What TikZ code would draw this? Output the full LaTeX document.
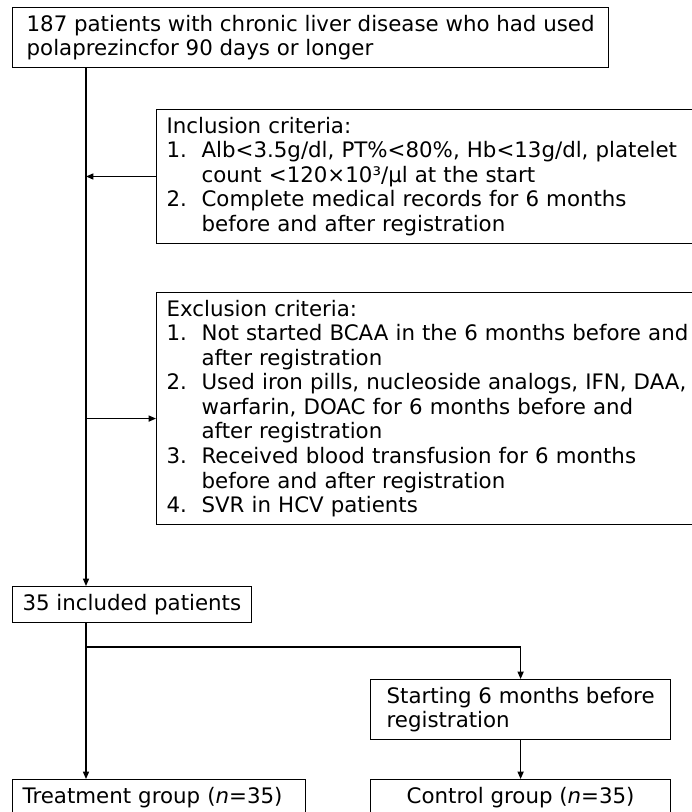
\documentclass[tikz,border=0pt]{standalone}
\usepackage{fontspec}
\setmainfont{DejaVu Sans}
\usetikzlibrary{arrows.meta}

\newdimen\pxu \pxu=0.75pt
\newcommand\lnum[1]{\makebox[35\pxu][l]{#1}}
\newcommand\lpad{\makebox[35\pxu]{}}

\begin{document}
\begin{tikzpicture}[x=0.75pt,y=-0.75pt,
  box/.style={draw,line width=0.9pt,inner xsep=10\pxu,inner ysep=7.5\pxu,
    align=left,anchor=north west,font=\fontsize{16}{18.4}\selectfont},
  arr/.style={line width=1pt,-{Triangle[length=5.5pt,width=4.5pt]}},
  link/.style={line width=1pt}]

\useasboundingbox (0,0) rectangle (691,812);

\node[box,minimum width=596\pxu] (top) at (12,7)
  {187 patients with chronic liver disease who had used\\polaprezincfor 90 days or longer};

\node[box,text width=544\pxu] (incl) at (156,109)
  {Inclusion criteria:\\
   \lnum{1.}Alb<3.5g/dl, PT\%<80\%, Hb<13g/dl, platelet\\
   \lpad count <120×10³/µl at the start\\
   \lnum{2.}Complete medical records for 6 months\\
   \lpad before and after registration};

\node[box,text width=544\pxu] (excl) at (156,292)
  {Exclusion criteria:\\
   \lnum{1.}Not started BCAA in the 6 months before and\\
   \lpad after registration\\
   \lnum{2.}Used iron pills, nucleoside analogs, IFN, DAA,\\
   \lpad warfarin, DOAC for 6 months before and\\
   \lpad after registration\\
   \lnum{3.}Received blood transfusion for 6 months\\
   \lpad before and after registration\\
   \lnum{4.}SVR in HCV patients};

\node[box] (inc35) at (12,586) {35 included patients};

\node[box,minimum width=300\pxu] (start) at (370,679)
  {Starting 6 months before\\registration};

\node[box,text width=273\pxu] (treat) at (12,779) {Treatment group (\textit{n}=35)};
\node[box,minimum width=300\pxu,align=center] (ctrl) at (370,779) {Control group (\textit{n}=35)};

% trunk and branches
\coordinate (tr) at (86,0);
\coordinate (br) at (86,647);

\draw[arr] (top.south -| tr) -- (inc35.north -| tr);
\draw[arr] (incl.west) -- (incl.west -| tr);
\draw[arr] ([yshift=-7.5pt]excl.west -| tr) -- ([yshift=-7.5pt]excl.west);

\draw[arr] (inc35.south -| tr) -- (treat.north -| tr);
\draw[arr] (br) -| (start.north);
\draw[arr] (start) -- (ctrl);

\end{tikzpicture}
\end{document}
